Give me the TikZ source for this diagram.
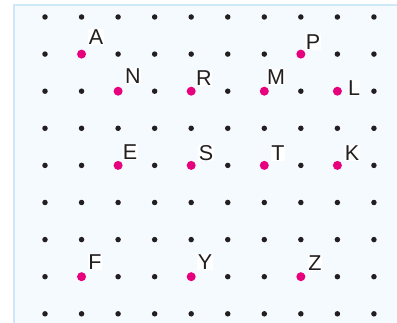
\documentclass[tikz,border=0pt]{standalone}
\usepackage{fontspec}
\setmainfont{Liberation Sans}
\definecolor{pinkpt}{HTML}{E6007E}
\definecolor{dotblk}{HTML}{231F20}
\definecolor{bgblue}{HTML}{F5FAFE}
\definecolor{edgeblue}{HTML}{CFE8F7}
\begin{document}
\begin{tikzpicture}[x=1pt,y=-1pt,
  gdot/.style={circle,fill=dotblk,inner sep=0pt,minimum size=5.5pt},
  ppt/.style={circle,fill=pinkpt,inner sep=0pt,minimum size=9pt},
  lbl/.style={fill=white,inner sep=0.5pt,font=\fontsize{21.5}{21.5}\selectfont,text=dotblk}]
\useasboundingbox (0,0) rectangle (397,323);
\clip (0,0) rectangle (397,323);
\draw[edgeblue,fill=bgblue,line width=2pt] (14,5) rectangle (410,340);
% grid dots
\foreach \i in {0,...,9}{
  \foreach \j in {0,...,8}{
    \node[gdot] (g\i-\j) at ({45+36.55*\i},{17+37.1*\j}) {};
  }
}
% pink points
\node[ppt] (pA) at (g1-1) {};
\node[ppt] (pN) at (g2-2) {};
\node[ppt] (pR) at (g4-2) {};
\node[ppt] (pM) at (g6-2) {};
\node[ppt] (pP) at (g7-1) {};
\node[ppt] (pL) at (g8-2) {};
\node[ppt] (pE) at (g2-4) {};
\node[ppt] (pS) at (g4-4) {};
\node[ppt] (pT) at (g6-4) {};
\node[ppt] (pK) at (g8-4) {};
\node[ppt] (pF) at (g1-7) {};
\node[ppt] (pY) at (g4-7) {};
\node[ppt] (pZ) at (g7-7) {};
% labels
\node[lbl] (lA) at (96,37) {A};
\node[lbl] (lN) at (133,76) {N};
\node[lbl] (lR) at (204,78) {R};
\node[lbl] (lM) at (276,77) {M};
\node[lbl] (lP) at (313,42) {P};
\node[lbl] (lL) at (354,88) {L};
\node[lbl] (lE) at (130,152) {E};
\node[lbl] (lS) at (206,153) {S};
\node[lbl] (lT) at (278,153) {T};
\node[lbl] (lK) at (352,153) {K};
\node[lbl] (lF) at (95,262) {F};
\node[lbl] (lY) at (205,262) {Y};
\node[lbl] (lZ) at (315,263) {Z};
\end{tikzpicture}
\end{document}
